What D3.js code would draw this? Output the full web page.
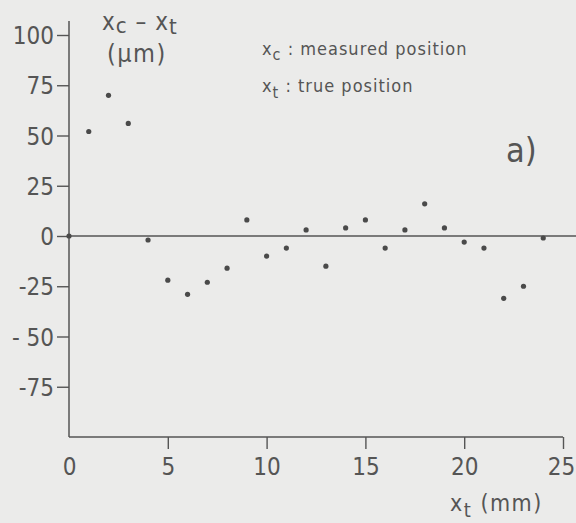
<!DOCTYPE html>
<html>
<head>
<meta charset="utf-8">
<script src="https://cdn.jsdelivr.net/npm/d3@7"></script>
<style>
  html, body { margin: 0; padding: 0; background: #ebebea; }
  svg { display: block; }
  text { font-family: "DejaVu Sans Condensed", "DejaVu Sans", sans-serif; fill: #555; }
</style>
</head>
<body>
<div id="chart"></div>
<script>
// ------------------------------------------------------------
// Data: x_t (mm) vs x_c - x_t (µm)
// ------------------------------------------------------------
const positions = [0, 1, 2, 3, 4, 5, 6, 7, 8, 9, 10, 11, 12, 13, 14, 15, 16, 17, 18, 19, 20, 21, 22, 23, 24];
const deviations = [0, 52, 70, 56, -2, -22, -29, -23, -16, 8, -10, -6, 3, -15, 4, 8, -6, 3, 16, 4, -3, -6, -31, -25, -1];

const xTicks = [0, 5, 10, 15, 20, 25];
const yTicks = [100, 75, 50, 25, 0, -25, -50, -75];
const yTickLabels = ["100", "75", "50", "25", "0", "-25", "- 50", "-75"];

// ------------------------------------------------------------
// Dimensions
// ------------------------------------------------------------
const width = 576;
const height = 523;
const margin = { top: 35, right: 13, bottom: 86, left: 69 };
const ink = "#555";

const svg = d3.select("#chart").append("svg")
    .attr("width", width)
    .attr("height", height);

const x = d3.scaleLinear().domain([0, 25]).range([margin.left, width - margin.right]);
const y = d3.scaleLinear().domain([-100, 100]).range([height - margin.bottom, margin.top]);

// ------------------------------------------------------------
// Axes
// ------------------------------------------------------------
const yAxis = d3.axisLeft(y)
    .tickValues(yTicks)
    .tickSize(12)
    .tickPadding(3)
    .tickFormat((d, i) => yTickLabels[i]);

const yG = svg.append("g")
    .attr("transform", `translate(${x(0)},0)`)
    .call(yAxis);
yG.select(".domain").remove();
yG.selectAll(".tick line").attr("stroke", ink).attr("stroke-width", 1.4);
yG.selectAll(".tick text")
    .style("font-size", "24px")
    .attr("fill", ink)
    .attr("dy", "0.36em");

const xAxis = d3.axisBottom(x)
    .tickValues(xTicks)
    .tickSize(12)
    .tickPadding(9)
    .tickFormat(d3.format("d"));

const xG = svg.append("g")
    .attr("transform", `translate(0,${y(-100)})`)
    .call(xAxis);
xG.select(".domain").remove();
xG.selectAll(".tick line")
    .attr("stroke", ink)
    .attr("stroke-width", 1.4)
    .attr("display", d => d === 0 ? "none" : null);
xG.selectAll(".tick text")
    .style("font-size", "24px")
    .attr("fill", ink)
    .attr("dx", d => d === 25 ? -2 : 0);   // keep the last label inside the frame

// axis lines
svg.append("line")
    .attr("x1", x(0)).attr("x2", x(0))
    .attr("y1", y(-100)).attr("y2", y(107))
    .attr("stroke", ink).attr("stroke-width", 1.5);
svg.append("line")
    .attr("x1", x(0)).attr("x2", x(25))
    .attr("y1", y(-100)).attr("y2", y(-100))
    .attr("stroke", ink).attr("stroke-width", 1.5);

// zero reference line, runs to the right edge
svg.append("line")
    .attr("x1", x(0)).attr("x2", width)
    .attr("y1", y(0)).attr("y2", y(0))
    .attr("stroke", ink).attr("stroke-width", 1.3);

// ------------------------------------------------------------
// Points
// ------------------------------------------------------------
svg.append("g")
    .selectAll("circle")
    .data(positions.map((p, i) => ({ p, d: deviations[i] })))
    .join("circle")
    .attr("cx", d => x(d.p))
    .attr("cy", d => y(d.d))
    .attr("r", 2.6)
    .attr("fill", "#4a4a4a");

// ------------------------------------------------------------
// Labels
// ------------------------------------------------------------
// y title: x_c - x_t (µm)
const yTitle = svg.append("text")
    .attr("x", 102).attr("y", 30)
    .style("font-size", "24px")
    .style("letter-spacing", "1px");
yTitle.append("tspan").text("x");
yTitle.append("tspan").attr("dy", 3).style("font-size", "22px").text("c");
yTitle.append("tspan").attr("dy", -3).text(" – x");
yTitle.append("tspan").attr("dy", 4).style("font-size", "22px").text("t");
svg.append("text")
    .attr("x", 107).attr("y", 62)
    .style("font-size", "25px")
    .style("letter-spacing", "1.5px")
    .text("(µm)");

// legend
const leg1 = svg.append("text").attr("x", 262).attr("y", 55)
    .style("font-size", "18px").style("letter-spacing", "1px");
leg1.append("tspan").text("x");
leg1.append("tspan").attr("dy", 5).style("font-size", "16px").text("c");
leg1.append("tspan").attr("dy", -5).text(" : measured  position");

const leg2 = svg.append("text").attr("x", 262).attr("y", 92)
    .style("font-size", "18px").style("letter-spacing", "1px");
leg2.append("tspan").text("x");
leg2.append("tspan").attr("dy", 6).style("font-size", "16px").text("t");
leg2.append("tspan").attr("dy", -6).text(" : true  position");

// panel label
svg.append("text")
    .attr("x", 506).attr("y", 162)
    .style("font-size", "34px")
    .text("a)");

// x title: x_t (mm)
const xTitle = svg.append("text")
    .attr("x", 450).attr("y", 511)
    .style("font-size", "23px")
    .style("letter-spacing", "1.5px");
xTitle.append("tspan").text("x");
xTitle.append("tspan").attr("dy", 6).style("font-size", "20px").text("t");
xTitle.append("tspan").attr("dy", -6).text(" (mm)");
</script>
</body>
</html>
